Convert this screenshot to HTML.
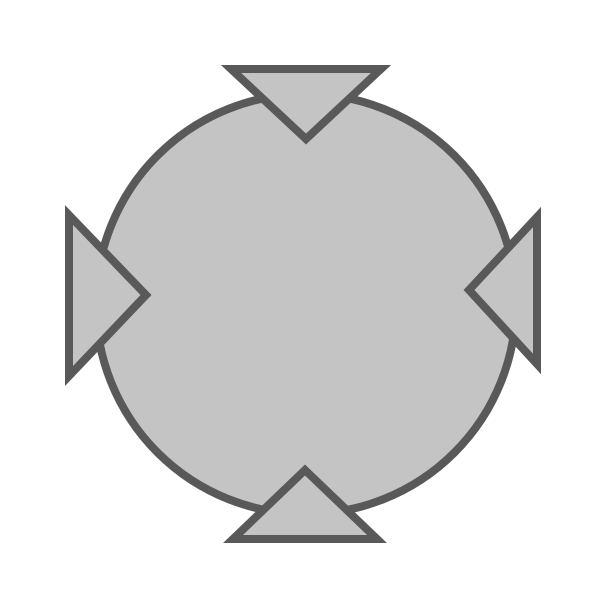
<!DOCTYPE html>
<html><head><meta charset="utf-8"><style>html,body{margin:0;padding:0;background:#fff;width:600px;height:600px;overflow:hidden}</style></head>
<body>
<svg width="600" height="600" viewBox="0 0 600 600">
<g fill="#c4c4c4" stroke="#595959" stroke-width="8" stroke-linejoin="miter">
<circle cx="306" cy="304" r="210"/>
<polygon points="231,69 381,69 306,139"/>
<polygon points="305,470 233,539 377,539"/>
<polygon points="69,215 69,376 146,295"/>
<polygon points="537,217 537,364 469,290"/>
</g>
</svg>
</body></html>
